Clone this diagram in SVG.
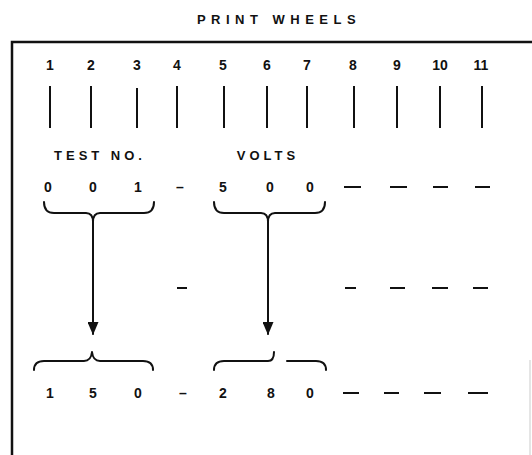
<svg xmlns="http://www.w3.org/2000/svg" width="532" height="455" viewBox="0 0 532 455">
<style>
text{font-family:"Liberation Sans",Arial,sans-serif;font-weight:bold;font-size:14px;fill:#111;text-anchor:middle}
.t{font-size:13px;letter-spacing:5.5px}
.lb{font-size:13px;letter-spacing:4px}
.ln{stroke:#111;stroke-width:2;fill:none;stroke-linecap:round;stroke-linejoin:round}
.box{stroke:#111;stroke-width:2.5;fill:none}
.d{stroke:#111;stroke-width:2;stroke-linecap:butt}
</style>
<defs>
<marker id="ah" markerWidth="13" markerHeight="11" refX="12" refY="5.5" orient="auto" markerUnits="userSpaceOnUse" viewBox="0 0 13 11">
<path d="M0,0 L13,5.5 L0,11 Z" fill="#111"/>
</marker>
</defs>
<g id="title"><text class="t" x="279" y="24">PRINT WHEELS</text></g>
<g id="frame">
<path class="box" d="M12,455 L12,42 L532,42"/>
<line x1="530" y1="360" x2="530" y2="455" stroke="#ddd" stroke-width="1.5"/>
</g>
<g id="wheels">
<text x="50" y="70">1</text><text x="91" y="70">2</text><text x="137" y="70">3</text><text x="177" y="70">4</text><text x="223" y="70">5</text><text x="267" y="70">6</text><text x="307" y="70">7</text><text x="353" y="70">8</text><text x="397" y="70">9</text><text x="440" y="70">10</text><text x="481" y="70">11</text>
<g class="d">
<line x1="50" y1="86" x2="50" y2="128"/><line x1="91" y1="86" x2="91" y2="128"/><line x1="137" y1="88" x2="137" y2="128"/><line x1="177" y1="86" x2="177" y2="128"/><line x1="224" y1="86" x2="224" y2="128"/><line x1="267" y1="86" x2="267" y2="128"/><line x1="307" y1="86" x2="307" y2="128"/><line x1="354" y1="86" x2="354" y2="128"/><line x1="397" y1="86" x2="397" y2="128"/><line x1="440" y1="86" x2="440" y2="128"/><line x1="482" y1="86" x2="482" y2="128"/>
</g>
</g>
<g id="labels">
<text class="lb" x="100" y="160">TEST NO.</text>
<text class="lb" x="268" y="160">VOLTS</text>
</g>
<g id="row-input">
<text x="48" y="192">0</text><text x="93" y="192">0</text><text x="138" y="192">1</text><text x="180" y="192">–</text><text x="223" y="192">5</text><text x="270" y="192">0</text><text x="310" y="192">0</text>
<g class="d"><line x1="344" y1="187" x2="361" y2="187"/><line x1="390" y1="187" x2="407" y2="187"/><line x1="433" y1="187" x2="448" y2="187"/><line x1="475" y1="187" x2="490" y2="187"/></g>
</g>
<g id="brace-test-in"><path class="ln" d="M44,202 Q44,213 54,213 L86,213 Q93,213 93,222 Q93,213 100,213 L144,213 Q154,213 154,202"/></g>
<g id="brace-volts-in"><path class="ln" d="M214,202 Q214,213 224,213 L261,213 Q268,213 268,222 Q268,213 275,213 L315,213 Q325,213 325,202"/></g>
<g id="row-middle" class="d">
<line x1="177" y1="288" x2="187" y2="288"/><line x1="345" y1="288" x2="356" y2="288"/><line x1="390" y1="288" x2="405" y2="288"/><line x1="432" y1="288" x2="448" y2="288"/><line x1="473" y1="288" x2="488" y2="288"/>
</g>
<g id="connectors">
<line class="ln" x1="93" y1="222" x2="93" y2="334" marker-end="url(#ah)"/>
<line class="ln" x1="268" y1="222" x2="268" y2="334" marker-end="url(#ah)"/>
</g>
<g id="brace-test-out"><path class="ln" d="M34,370 Q34,361 44,361 L84,361 Q91,361 92,352 Q93,361 100,361 L143,361 Q153,361 153,370"/></g>
<g id="brace-volts-out"><path class="ln" d="M214,370 Q214,361 224,361 L268,361 Q274,361 274,352 M287,361 L316,361 Q326,361 326,370"/></g>
<g id="row-output">
<text x="50" y="398">1</text><text x="93" y="398">5</text><text x="138" y="398">0</text><text x="183" y="398">–</text><text x="223" y="398">2</text><text x="271" y="398">8</text><text x="310" y="398">0</text>
<g class="d"><line x1="343" y1="393" x2="359" y2="393"/><line x1="384" y1="393" x2="399" y2="393"/><line x1="424" y1="393" x2="441" y2="393"/><line x1="468" y1="393" x2="488" y2="393"/></g>
</g>
</svg>
